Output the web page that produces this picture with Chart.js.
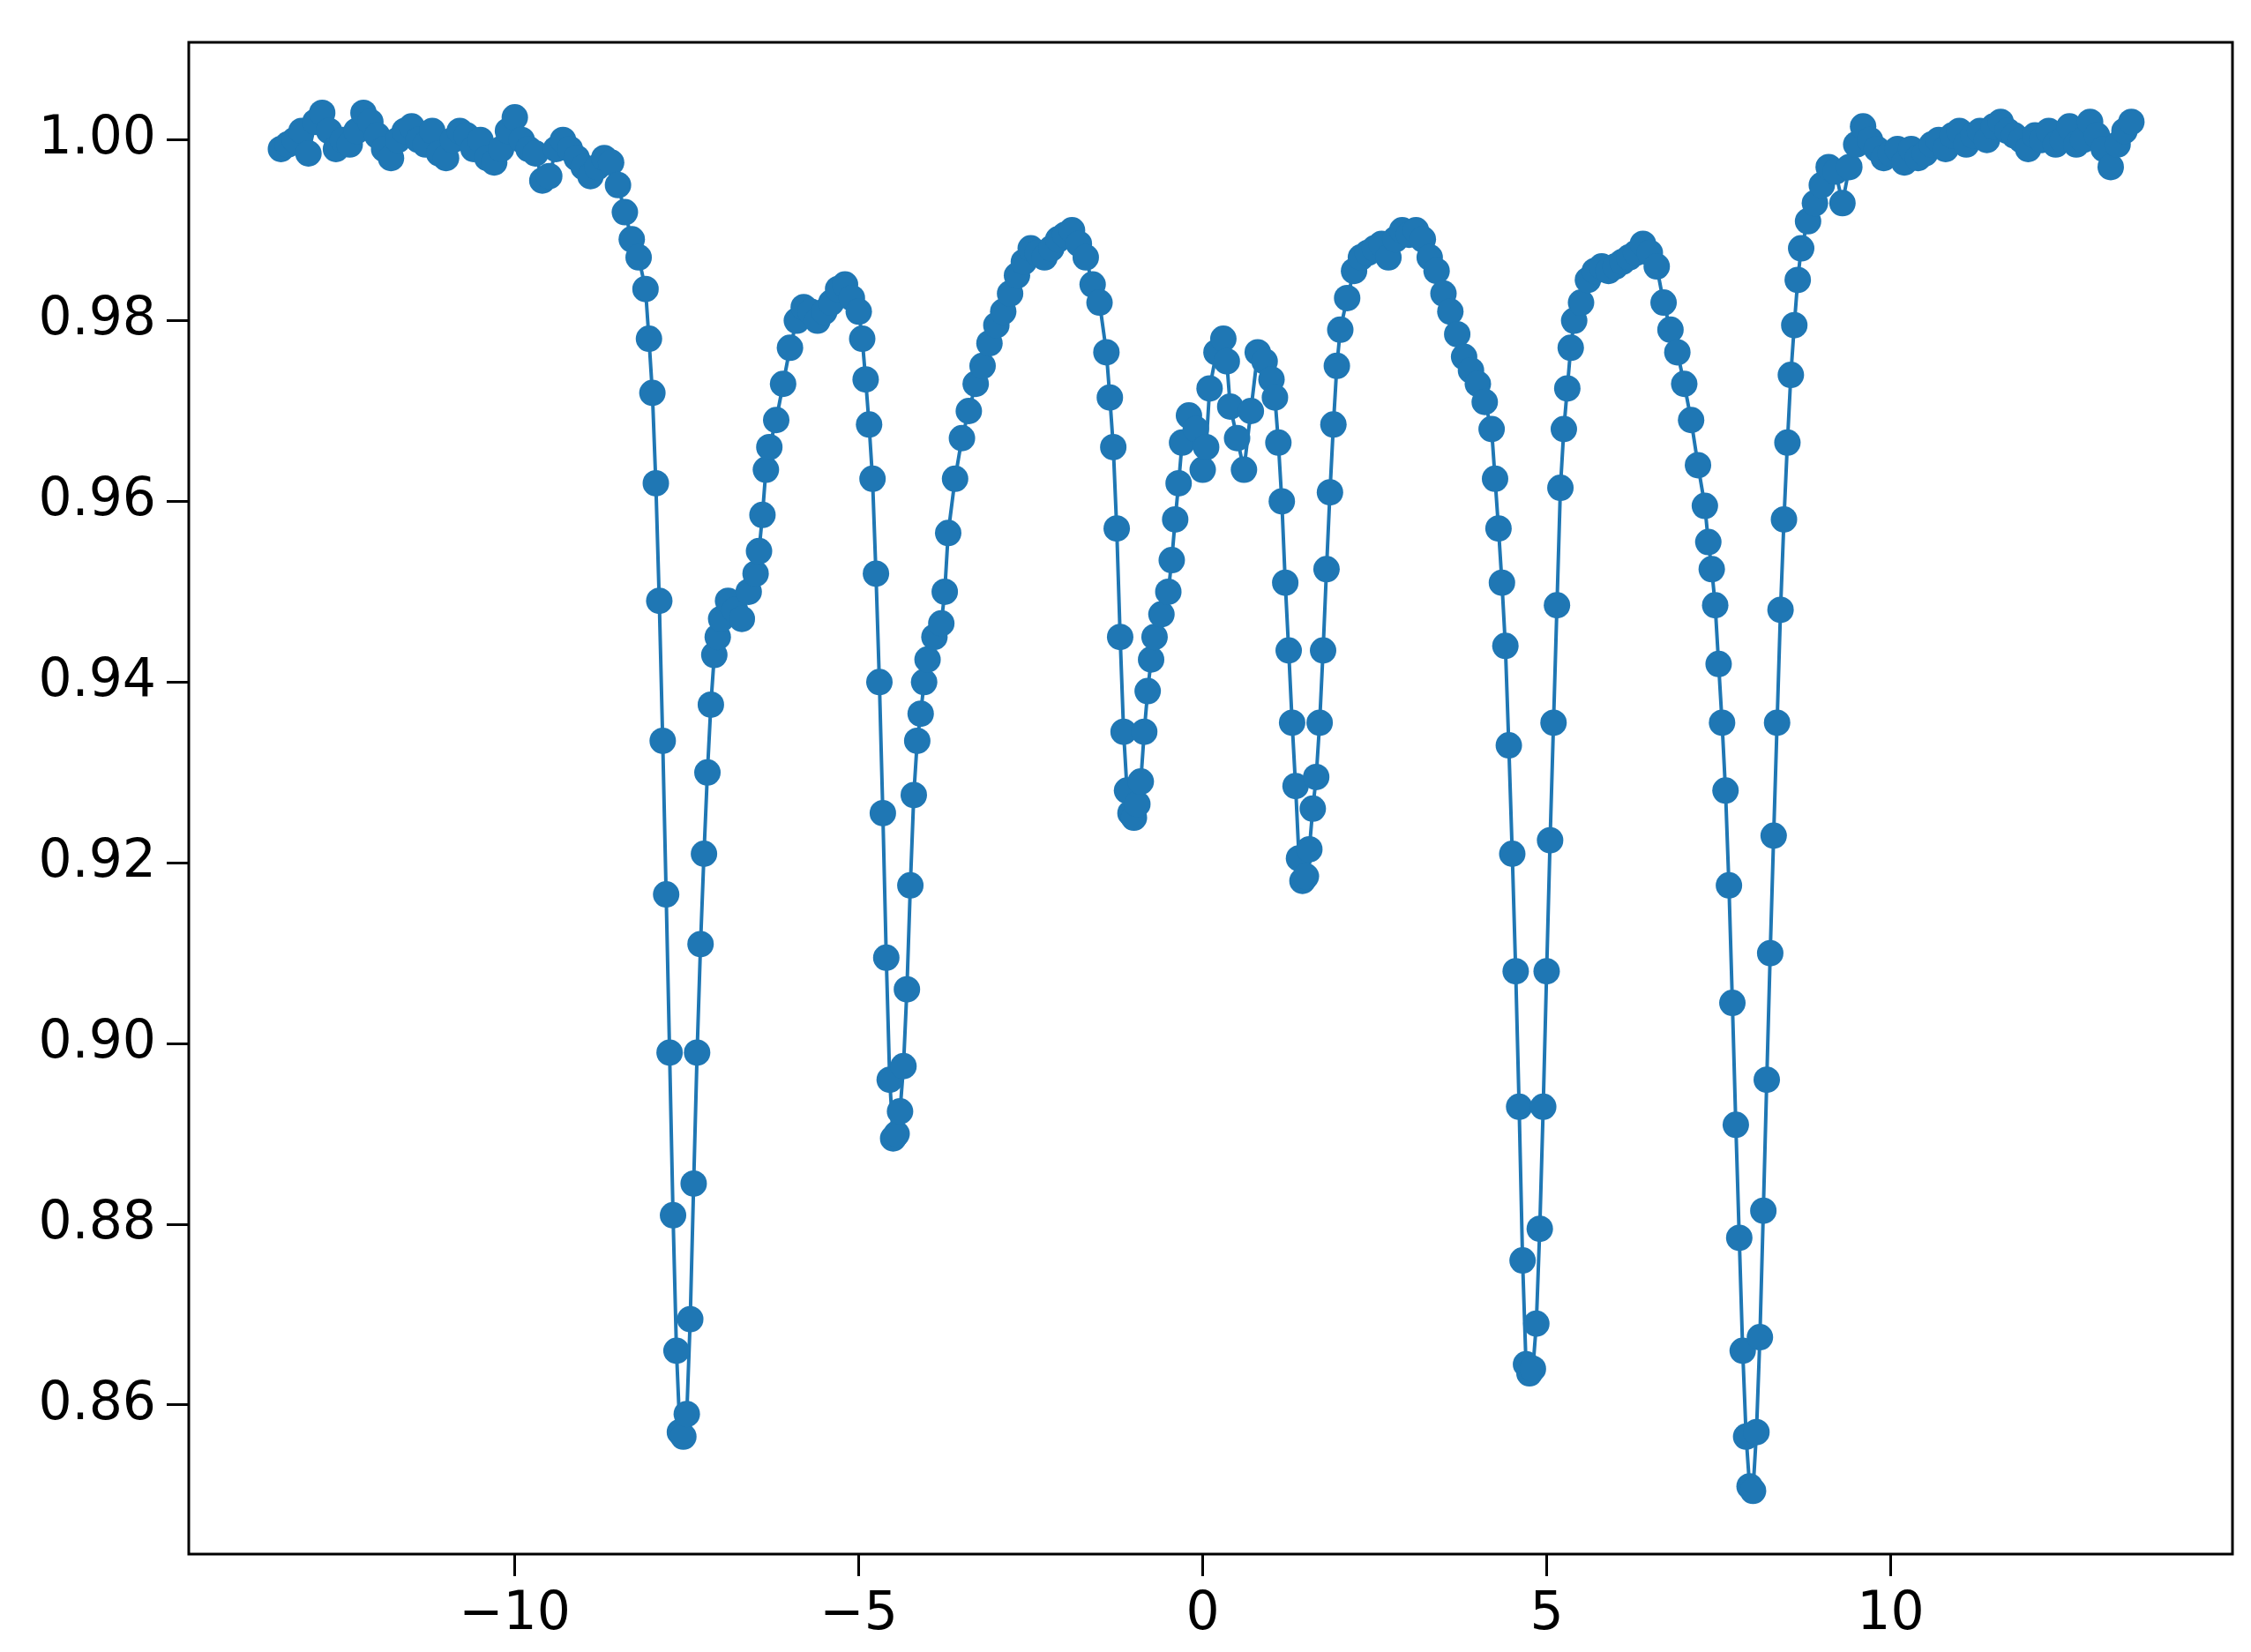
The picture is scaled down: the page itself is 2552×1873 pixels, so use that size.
<!DOCTYPE html>
<html>
<head>
<meta charset="utf-8">
<script src="https://cdn.jsdelivr.net/npm/chart.js@4.4.1/dist/chart.umd.min.js"></script>
<style>
  html, body { margin: 0; padding: 0; background: #fff; }
  #wrap { width: 2552px; height: 1873px; }
</style>
</head>
<body>
<div id="wrap"><canvas id="chart" width="2552" height="1873"></canvas></div>
<script>
// --- Data ---
const velocity = [
  -13.4,-13.3,-13.2,-13.1,-13.0,-12.9,-12.8,-12.7,-12.6,-12.5,-12.4,-12.3,-12.2,-12.1,-12.0,-11.9,-11.8,-11.7,-11.6,-11.5,
  -11.4,-11.3,-11.2,-11.1,-11.0,-10.9,-10.8,-10.7,-10.6,-10.5,-10.4,-10.3,-10.2,-10.1,-10.0,-9.9,-9.8,-9.7,-9.6,-9.5,
  -9.4,-9.3,-9.2,-9.1,-9.0,-8.9,-8.8,-8.7,-8.6,-8.5,-8.4,-8.3,-8.2,-8.1,-8.05,-8.0,-7.95,-7.9,-7.85,-7.8,
  -7.75,-7.7,-7.65,-7.6,-7.55,-7.5,-7.45,-7.4,-7.35,-7.3,-7.25,-7.2,-7.15,-7.1,-7.05,-7.0,-6.9,-6.8,-6.7,-6.6,
  -6.5,-6.45,-6.4,-6.35,-6.3,-6.2,-6.1,-6.0,-5.9,-5.8,-5.7,-5.6,-5.5,-5.4,-5.3,-5.2,-5.1,-5.0,-4.95,-4.9,
  -4.85,-4.8,-4.75,-4.7,-4.65,-4.6,-4.55,-4.5,-4.45,-4.4,-4.35,-4.3,-4.25,-4.2,-4.15,-4.1,-4.05,-4.0,-3.9,-3.8,
  -3.75,-3.7,-3.6,-3.5,-3.4,-3.3,-3.2,-3.1,-3.0,-2.9,-2.8,-2.7,-2.6,-2.5,-2.4,-2.3,-2.2,-2.1,-2.0,-1.9,
  -1.8,-1.7,-1.6,-1.5,-1.4,-1.35,-1.3,-1.25,-1.2,-1.15,-1.1,-1.05,-1.0,-0.95,-0.9,-0.85,-0.8,-0.75,-0.7,-0.6,
  -0.5,-0.45,-0.4,-0.35,-0.3,-0.2,-0.1,0.0,0.05,0.1,0.2,0.3,0.35,0.4,0.5,0.6,0.7,0.8,0.9,1.0,
  1.05,1.1,1.15,1.2,1.25,1.3,1.35,1.4,1.45,1.5,1.55,1.6,1.65,1.7,1.75,1.8,1.85,1.9,1.95,2.0,
  2.1,2.2,2.3,2.4,2.5,2.6,2.7,2.8,2.9,3.0,3.1,3.2,3.3,3.4,3.5,3.6,3.7,3.8,3.9,4.0,
  4.1,4.2,4.25,4.3,4.35,4.4,4.45,4.5,4.55,4.6,4.65,4.7,4.75,4.8,4.85,4.9,4.95,5.0,5.05,5.1,
  5.15,5.2,5.25,5.3,5.35,5.4,5.5,5.6,5.7,5.8,5.9,6.0,6.1,6.2,6.3,6.4,6.5,6.6,6.7,6.8,
  6.9,7.0,7.1,7.2,7.3,7.35,7.4,7.45,7.5,7.55,7.6,7.65,7.7,7.75,7.8,7.85,7.9,7.95,8.0,8.05,
  8.1,8.15,8.2,8.25,8.3,8.35,8.4,8.45,8.5,8.55,8.6,8.65,8.7,8.8,8.9,9.0,9.1,9.2,9.3,9.4,
  9.5,9.6,9.7,9.8,9.9,10.0,10.1,10.2,10.3,10.4,10.5,10.6,10.7,10.8,10.9,11.0,11.1,11.2,11.3,11.4,
  11.5,11.6,11.7,11.8,11.9,12.0,12.1,12.2,12.3,12.4,12.5,12.6,12.7,12.8,12.9,13.0,13.1,13.2,13.3,13.4,13.5
];
const transmission = [
  0.999,0.9995,1.000,1.001,0.9985,1.002,1.003,1.001,0.999,1.000,0.9995,1.001,1.003,1.002,1.0005,0.999,0.998,1.000,1.001,1.0015,
  1.000,0.9995,1.001,0.9985,0.998,1.000,1.001,1.0005,0.999,1.000,0.998,0.9975,0.999,1.001,1.0025,1.000,0.999,0.9985,0.9955,0.996,
  0.999,1.000,0.999,0.998,0.997,0.996,0.997,0.998,0.9975,0.995,0.992,0.989,0.987,0.9835,0.978,0.972,0.962,0.949,0.9335,0.9165,
  0.899,0.881,0.866,0.857,0.8565,0.859,0.8695,0.8845,0.899,0.911,0.921,0.930,0.9375,0.943,0.945,0.947,0.949,0.948,0.947,0.950,
  0.952,0.9545,0.9585,0.9635,0.966,0.969,0.973,0.977,0.980,0.9815,0.981,0.980,0.981,0.982,0.9835,0.984,0.9825,0.981,0.978,0.9735,
  0.9685,0.9625,0.952,0.940,0.9255,0.9095,0.896,0.8895,0.890,0.8925,0.8975,0.906,0.9175,0.9275,0.9335,0.9365,0.940,0.9425,0.945,0.9465,
  0.950,0.9565,0.9625,0.967,0.970,0.973,0.975,0.9775,0.9795,0.981,0.983,0.985,0.9865,0.988,0.9875,0.987,0.988,0.989,0.9895,0.990,
  0.9885,0.987,0.984,0.982,0.9765,0.9715,0.966,0.957,0.945,0.9345,0.928,0.9255,0.925,0.9265,0.929,0.9345,0.939,0.9425,0.945,0.9475,
  0.950,0.9535,0.958,0.962,0.9665,0.9695,0.968,0.9635,0.966,0.9725,0.9765,0.978,0.9755,0.9705,0.967,0.9635,0.970,0.9765,0.9755,0.9735,
  0.9715,0.9665,0.960,0.951,0.9435,0.9355,0.9285,0.9205,0.918,0.9185,0.9215,0.926,0.9295,0.9355,0.9435,0.9525,0.961,0.9685,0.975,0.979,
  0.9825,0.9855,0.987,0.9875,0.988,0.9885,0.987,0.989,0.990,0.9895,0.990,0.989,0.987,0.9855,0.983,0.981,0.9785,0.976,0.9745,0.973,
  0.971,0.968,0.9625,0.957,0.951,0.944,0.933,0.921,0.908,0.893,0.876,0.8645,0.8635,0.864,0.869,0.8795,0.893,0.908,0.9225,0.9355,
  0.9485,0.9615,0.968,0.9725,0.977,0.980,0.982,0.9845,0.9855,0.986,0.9855,0.986,0.9865,0.987,0.9875,0.9885,0.9875,0.986,0.982,0.979,
  0.9765,0.973,0.969,0.964,0.9595,0.9555,0.9525,0.9485,0.942,0.9355,0.928,0.9175,0.9045,0.891,0.8785,0.866,0.8565,0.851,0.8505,0.857,
  0.8675,0.8815,0.896,0.910,0.923,0.9355,0.948,0.958,0.9665,0.974,0.9795,0.9845,0.988,0.991,0.993,0.995,0.997,0.9965,0.993,0.997,
  0.9995,1.0015,1.000,0.999,0.998,0.9985,0.999,0.9975,0.999,0.998,0.9985,0.9995,1.000,0.999,1.0005,1.001,0.9995,1.0005,1.001,1.000,
  1.0015,1.002,1.001,1.0005,1.000,0.999,1.0005,1.000,1.001,0.9995,1.000,1.0015,0.9995,1.000,1.002,1.0005,0.999,0.997,0.9995,1.001,1.002
];
const xTicks = [-10, -5, 0, 5, 10];
const yTicks = [0.86, 0.88, 0.90, 0.92, 0.94, 0.96, 0.98, 1.00];

const points = velocity.map((v, i) => ({ x: v, y: transmission[i] }));

// frame around the plot area, like a matplotlib axes box
const frame = {
  id: 'frame',
  afterDraw(chart) {
    const a = chart.chartArea, ctx = chart.ctx;
    ctx.save();
    ctx.strokeStyle = '#000';
    ctx.lineWidth = 3;
    ctx.strokeRect(a.left, a.top, a.right - a.left, a.bottom - a.top);
    ctx.restore();
  }
};

new Chart(document.getElementById('chart'), {
  type: 'line',
  data: {
    datasets: [{
      data: points,
      borderColor: '#1f77b4',
      backgroundColor: '#1f77b4',
      borderWidth: 4,
      pointRadius: 15,
      pointBorderWidth: 0,
      tension: 0
    }]
  },
  options: {
    responsive: false,
    animation: false,
    devicePixelRatio: 1,
    layout: { padding: { top: 36, right: 21, left: 0, bottom: 0 } },
    plugins: { legend: { display: false }, tooltip: { enabled: false } },
    scales: {
      x: {
        type: 'linear',
        min: -14.74, max: 14.97,
        afterBuildTicks: s => { s.ticks = xTicks.map(v => ({ value: v })); },
        afterFit: s => { s.height = 111; },
        border: { display: false },
        grid: { drawOnChartArea: false, tickLength: 25, color: '#000', lineWidth: 3 },
        ticks: {
          color: '#000', font: { family: 'DejaVu Sans', size: 60 }, padding: 8,
          callback: v => String(v).replace('-', '\u2212')
        }
      },
      y: {
        min: 0.8435, max: 1.0108,
        afterBuildTicks: s => { s.ticks = yTicks.map(v => ({ value: v })); },
        afterFit: s => { s.width = 214; },
        border: { display: false },
        grid: { drawOnChartArea: false, tickLength: 25, color: '#000', lineWidth: 3 },
        ticks: {
          color: '#000', font: { family: 'DejaVu Sans', size: 60 }, padding: 12,
          callback: v => v.toFixed(2)
        }
      }
    }
  },
  plugins: [frame]
});
</script>
</body>
</html>
